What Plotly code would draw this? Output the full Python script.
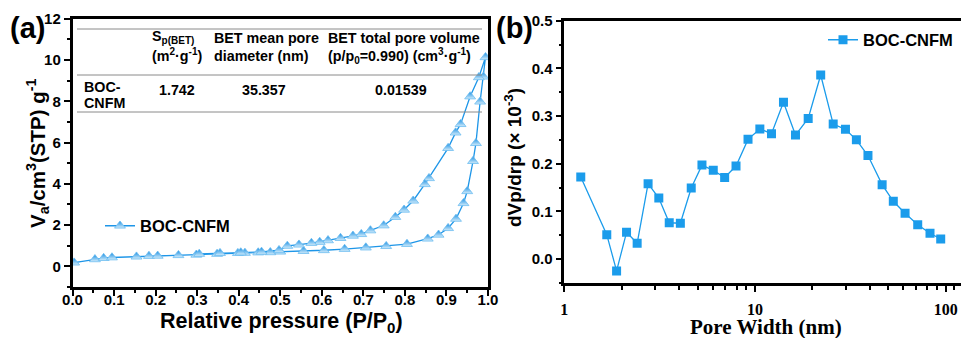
import plotly.graph_objects as go

# ---- data: N2 isotherm (a) ----
ads_p = [0.004, 0.054, 0.075, 0.095, 0.154, 0.184, 0.205, 0.255, 0.298, 0.348, 0.398, 0.415, 0.447, 0.476,
         0.500, 0.556, 0.605, 0.655, 0.706, 0.755, 0.805, 0.855, 0.881, 0.904, 0.923, 0.941, 0.950, 0.964,
         0.971, 0.981, 0.989, 0.994]
ads_v = [0.18, 0.34, 0.40, 0.43, 0.47, 0.50, 0.51, 0.54, 0.56, 0.60, 0.64, 0.65, 0.67, 0.68,
         0.71, 0.74, 0.78, 0.84, 0.91, 0.98, 1.08, 1.34, 1.53, 1.85, 2.30, 3.06, 3.64, 5.10,
         5.97, 7.98, 9.19, 10.13]
des_p = [0.978, 0.957, 0.934, 0.922, 0.904, 0.858, 0.848, 0.820, 0.798, 0.777, 0.749, 0.717, 0.695,
         0.675, 0.645, 0.615, 0.595, 0.575, 0.545, 0.517, 0.497, 0.455, 0.405, 0.355, 0.305]
des_v = [9.16, 8.23, 6.89, 6.48, 5.73, 4.27, 3.98, 3.18, 2.74, 2.39, 1.98, 1.74, 1.56,
         1.48, 1.37, 1.26, 1.18, 1.13, 1.05, 0.99, 0.78, 0.70, 0.67, 0.64, 0.60]

# ---- data: pore size distribution (b) ----
pore_w = [1.22, 1.67, 1.88, 2.12, 2.41, 2.75, 3.13, 3.55, 4.06, 4.63, 5.27, 6.04, 6.93, 7.95,
          9.19, 10.6, 12.2, 14.1, 16.3, 19.0, 22.1, 25.7, 29.8, 34.0, 39.1, 46.4, 53.1, 61.2,
          71.3, 82.7, 94.1]
dvdr = [0.172, 0.051, -0.025, 0.056, 0.033, 0.158, 0.128, 0.076, 0.075, 0.149, 0.197, 0.186, 0.171, 0.195,
        0.251, 0.273, 0.263, 0.329, 0.260, 0.295, 0.386, 0.283, 0.272, 0.250, 0.217, 0.156, 0.121, 0.096,
        0.072, 0.054, 0.042]

series_name = "BOC-CNFM"

W, H = 961, 338
def px(x): return x / W
def py(y): return 1 - y / H

SANS = "Liberation Sans"
SERIF = "Liberation Serif"
BLUE_A = "#1E96E8"
BLUE_B = "#1B9CEB"

fig = go.Figure()
fig.add_trace(go.Scatter(
    x=ads_p + des_p, y=ads_v + des_v, mode="lines+markers", name=series_name,
    line=dict(color=BLUE_A, width=1.3),
    marker=dict(symbol="triangle-up", size=9.5, color="#1A8FE3",
                gradient=dict(type="vertical", color="#D2ECFB"),
                line=dict(color="#6CBDF0", width=0.8)),
    xaxis="x", yaxis="y", legend="legend"))
fig.add_trace(go.Scatter(
    x=pore_w, y=dvdr, mode="lines+markers", name=series_name,
    line=dict(color=BLUE_B, width=1.3),
    marker=dict(symbol="square", size=9, color=BLUE_B),
    xaxis="x2", yaxis="y2", legend="legend2"))

axis_common = dict(showline=True, linecolor="black", linewidth=2.5, showgrid=False, zeroline=False,
                   ticks="outside", tickcolor="black", tickwidth=2, ticklen=6, automargin=False)
tickfont = dict(family=SANS, size=15, color="black", weight="bold")

fig.update_layout(
    template="none",
    width=W, height=H, margin=dict(l=0, r=0, t=0, b=0, autoexpand=False),
    paper_bgcolor="white", plot_bgcolor="white",
    xaxis=dict(**axis_common, domain=[px(72.5), px(488)], range=[0, 1], dtick=0.1, tickformat=".1f",
               mirror=True, tickfont=tickfont, anchor="y", ticklabelstandoff=-9,
               minor=dict(ticks="outside", dtick=0.05, ticklen=3, tickcolor="black", tickwidth=1.5)),
    yaxis=dict(**axis_common, domain=[py(287), py(18.7)], range=[-1, 12], tickvals=[0, 2, 4, 6, 8, 10, 12],
               mirror=True, tickfont=tickfont, anchor="x",
               minor=dict(ticks="outside", tickvals=[-1, 1, 3, 5, 7, 9, 11], ticklen=3, tickcolor="black", tickwidth=1.5)),
    xaxis2=dict(**axis_common, type="log", domain=[px(564.3), 1.0], range=[0, 2.08], tickvals=[1, 10, 100],
                ticktext=["1", "10", "100"], mirror=True, anchor="y2", ticklabelstandoff=4,
                tickfont=dict(family=SERIF, size=16, color="black", weight="bold"),
                minor=dict(ticks="outside", tickvals=[2, 3, 4, 5, 6, 7, 8, 9, 20, 30, 40, 50, 60, 70, 80, 90, 110],
                           ticklen=4, tickcolor="black", tickwidth=2)),
    yaxis2=dict(**axis_common, domain=[py(283.3), py(20.7)], range=[-0.051, 0.5], dtick=0.1, tickformat=".1f",
                tickfont=tickfont, anchor="x2",
                minor=dict(ticks="outside", dtick=0.05, ticklen=3, tickcolor="black", tickwidth=1.5)),
    legend=dict(x=px(100), y=py(226), xanchor="left", yanchor="middle", bgcolor="rgba(0,0,0,0)",
                font=dict(family=SANS, size=16.5, color="black", weight="bold"), itemwidth=30),
    legend2=dict(x=px(823), y=py(40), xanchor="left", yanchor="middle", bgcolor="rgba(0,0,0,0)",
                 font=dict(family=SANS, size=16.5, color="black", weight="bold"), itemwidth=30),
    showlegend=True,
)

ann = []
def add_text(text, x, y, size=14.3, xanchor="left", family=SANS, angle=0, weight="bold"):
    ann.append(dict(text=text, x=px(x), y=py(y), xref="paper", yref="paper", xanchor=xanchor,
                    yanchor="middle", showarrow=False, textangle=angle,
                    font=dict(family=family, size=size, color="black", weight=weight)))

# panel labels
add_text("(a)", 27, 28, size=29, xanchor="center")
add_text("(b)", 514, 28, size=29, xanchor="center")
# axis titles
add_text("Relative pressure (P/P<sub>0</sub>)", 281, 322, size=21.5, xanchor="center")
add_text("V<sub>a</sub>/cm<sup>3</sup>(STP) g<sup>-1</sup>", 37, 153, size=20.5, xanchor="center", angle=-90)
add_text("Pore Width (nm)", 766, 326.5, size=21, xanchor="center", family=SERIF)
add_text("dVp/drp (× 10<sup>-3</sup>)", 513, 158, size=19, xanchor="center", angle=-90)
# table
add_text("S<sub>p(BET)</sub>", 150, 37)
add_text("(m<sup>2</sup>·g<sup>-1</sup>)", 150, 55)
add_text("BET mean pore", 212, 38)
add_text("diameter (nm)", 212, 56)
add_text("BET total pore volume", 326, 38)
add_text("(p/p<sub>0</sub>=0.990) (cm<sup>3</sup>·g<sup>-1</sup>)", 326, 56)
add_text("BOC-", 82, 87)
add_text("CNFM", 82, 103)
add_text("1.742", 177, 90, xanchor="center")
add_text("35.357", 264, 90, xanchor="center")
add_text("0.01539", 401, 90, xanchor="center")
fig.update_layout(annotations=ann)

shapes = []
for yy in [29, 75, 112]:
    shapes.append(dict(type="line", xref="paper", yref="paper", x0=px(77), x1=px(482), y0=py(yy), y1=py(yy),
                       line=dict(color="#8A8A8A", width=1)))
fig.update_layout(shapes=shapes)

fig.write_html("out.html", config={"displayModeBar": False},
               post_script="document.body.style.margin='0';document.body.style.overflow='hidden';")
